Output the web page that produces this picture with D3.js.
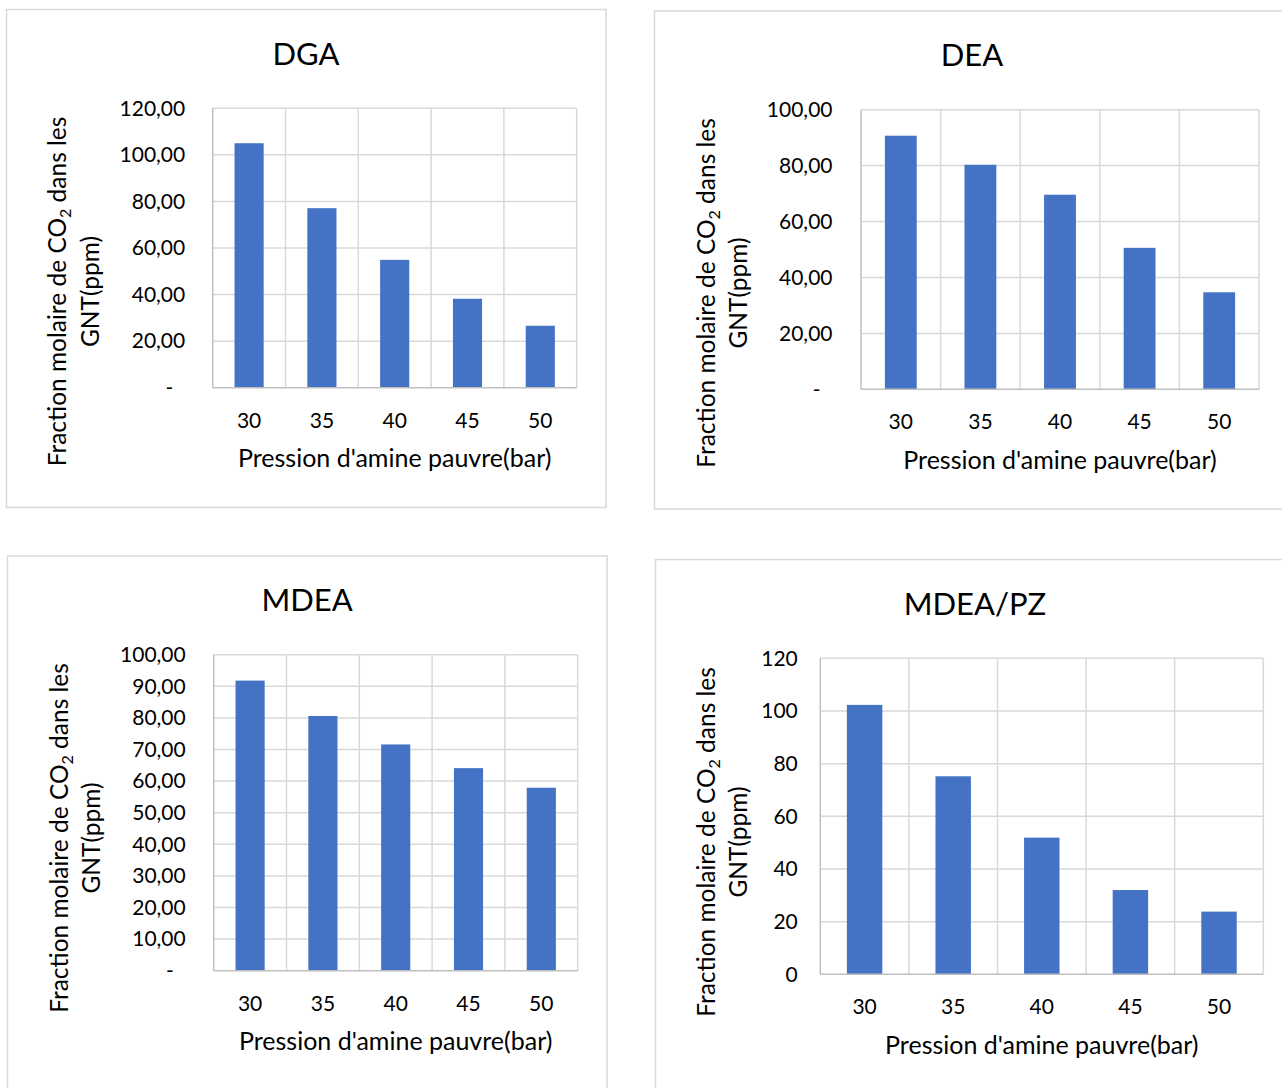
<!DOCTYPE html>
<html>
<head>
<meta charset="utf-8">
<script src="https://cdn.jsdelivr.net/npm/d3@7"></script>
<style>
  html, body { margin: 0; padding: 0; background: #ffffff; }
  svg { display: block; }
  text { font-family: Lato, "Open Sans", sans-serif; fill: #000000; }
</style>
</head>
<body>
<svg id="chart" width="1282" height="1088"></svg>
<script>
// Lean amine pressure (bar) on the category axis
const categories = [30, 35, 40, 45, 50];

// CO2 mole fraction in the treated gas (ppm) for each amine
const dgaValues = [105.0, 77.1, 54.9, 38.2, 26.6];
const deaValues = [90.7, 80.3, 69.6, 50.6, 34.7];
const mdeaValues = [91.8, 80.6, 71.6, 64.1, 57.9];
const mdeaPzValues = [102.3, 75.2, 51.9, 32.0, 23.8];

// Value-axis ticks for each chart
const dgaTicks = [0, 20, 40, 60, 80, 100, 120];
const deaTicks = [0, 20, 40, 60, 80, 100];
const mdeaTicks = [0, 10, 20, 30, 40, 50, 60, 70, 80, 90, 100];
const mdeaPzTicks = [0, 20, 40, 60, 80, 100, 120];

const chartTitles = ["DGA", "DEA", "MDEA", "MDEA/PZ"];
const xAxisTitle = "Pression d'amine pauvre(bar)";
const yTitleLine1 = "Fraction molaire de CO";
const yTitleSub = "2";
const yTitleRest = " dans les";
const yTitleLine2 = "GNT(ppm)";

const fr = d3.formatLocale({ decimal: ",", thousands: "\u00a0", grouping: [3], currency: ["", " €"] });
const fmt2 = fr.format(".2f");
const fmtInt = fr.format("d");

// Layout of the four chart frames
const panels = [
  { title: chartTitles[0], values: dgaValues, ticks: dgaTicks, decimals: true,
    frame: [6.5, 9.5, 599.5, 498], plot: [212.7, 108.3, 576.7, 387.7],
    titleX: 306, yTitle: [66, 99, 291.5], tickPad: 27.5 },
  { title: chartTitles[1], values: deaValues, ticks: deaTicks, decimals: true,
    frame: [654.5, 11, 700, 498], plot: [861, 109.7, 1259, 389.3],
    titleX: 972, yTitle: [715, 747, 293], tickPad: 28.5 },
  { title: chartTitles[2], values: mdeaValues, ticks: mdeaTicks, decimals: true,
    frame: [7.5, 556, 599.5, 600], plot: [213.7, 654.7, 577.7, 970.7],
    titleX: 307, yTitle: [67.5, 100, 838], tickPad: 28 },
  { title: chartTitles[3], values: mdeaPzValues, ticks: mdeaPzTicks, decimals: false,
    frame: [655.5, 559.5, 700, 600], plot: [820.3, 658.3, 1263.3, 974.3],
    titleX: 975, yTitle: [715, 747, 842], tickPad: 22.5 }
];

const svg = d3.select("#chart");
const BAR = "#4472C4";
const GRID = "#d9d9d9";
const AXIS = "#bfbfbf";
const TICK_FS = 21;
const AXIS_TITLE_FS = 25;

panels.forEach(p => {
  const g = svg.append("g");
  const [x0, y0, x1, y1] = p.plot;

  // chart area border
  g.append("rect")
    .attr("x", p.frame[0]).attr("y", p.frame[1])
    .attr("width", p.frame[2]).attr("height", p.frame[3])
    .attr("fill", "#ffffff").attr("stroke", GRID).attr("stroke-width", 1.5);

  const x = d3.scaleBand().domain(categories).range([x0, x1])
    .paddingInner(0.6).paddingOuter(0.3);
  const y = d3.scaleLinear().domain([0, d3.max(p.ticks)]).range([y1, y0]);
  const step = x.step();

  // horizontal gridlines
  g.append("g").selectAll("line").data(p.ticks.filter(t => t > 0)).join("line")
    .attr("x1", x0).attr("x2", x1)
    .attr("y1", d => y(d)).attr("y2", d => y(d))
    .attr("stroke", GRID).attr("stroke-width", 1.5);

  // vertical gridlines between categories
  g.append("g").selectAll("line").data(d3.range(1, categories.length + 1)).join("line")
    .attr("x1", i => x0 + i * step).attr("x2", i => x0 + i * step)
    .attr("y1", y0).attr("y2", y1)
    .attr("stroke", GRID).attr("stroke-width", 1.5);

  // bars
  g.append("g").selectAll("rect").data(p.values).join("rect")
    .attr("x", (d, i) => x(categories[i]))
    .attr("y", d => y(d))
    .attr("width", x.bandwidth())
    .attr("height", d => y(0) - y(d))
    .attr("fill", BAR);

  // axis lines (left and bottom)
  g.append("line").attr("x1", x0).attr("x2", x0).attr("y1", y0).attr("y2", y1)
    .attr("stroke", AXIS).attr("stroke-width", 1.5);
  g.append("line").attr("x1", x0).attr("x2", x1).attr("y1", y1).attr("y2", y1)
    .attr("stroke", AXIS).attr("stroke-width", 1.5);

  // value axis labels
  const yAxis = d3.axisLeft(y).tickValues(p.ticks).tickSize(0).tickPadding(p.tickPad)
    .tickFormat(d => p.decimals ? (d === 0 ? "-" : fmt2(d)) : fmtInt(d));
  const ya = g.append("g").attr("transform", `translate(${x0},0)`).call(yAxis);
  ya.select(".domain").remove();
  ya.selectAll("text").attr("font-family", "Lato").attr("font-size", TICK_FS)
    .attr("fill", "#000")
    .attr("dx", d => (p.decimals && d === 0) ? -12 : 0);

  // category axis labels
  const xAxis = d3.axisBottom(x).tickSize(0).tickPadding(25);
  const xa = g.append("g").attr("transform", `translate(0,${y1})`).call(xAxis);
  xa.select(".domain").remove();
  xa.selectAll("text").attr("font-family", "Lato").attr("font-size", TICK_FS).attr("fill", "#000");

  // chart title
  g.append("text").attr("x", p.titleX).attr("y", y0 - 43.3)
    .attr("text-anchor", "middle").attr("font-size", 31).text(p.title);

  // category axis title
  g.append("text").attr("x", (x0 + x1) / 2).attr("y", y1 + 79.3)
    .attr("text-anchor", "middle").attr("font-size", AXIS_TITLE_FS).text(xAxisTitle);

  // value axis title (two lines, rotated)
  const [bx1, bx2, cy] = p.yTitle;
  const t1 = g.append("text")
    .attr("transform", `translate(${bx1},${cy}) rotate(-90)`)
    .attr("text-anchor", "middle").attr("font-size", AXIS_TITLE_FS - 0.5);
  t1.append("tspan").text(yTitleLine1);
  t1.append("tspan").attr("font-size", 16).attr("dy", 5).text(yTitleSub);
  t1.append("tspan").attr("dy", -5).text(yTitleRest);
  g.append("text")
    .attr("transform", `translate(${bx2},${cy}) rotate(-90)`)
    .attr("text-anchor", "middle").attr("font-size", AXIS_TITLE_FS - 0.5).text(yTitleLine2);
});
</script>
</body>
</html>
